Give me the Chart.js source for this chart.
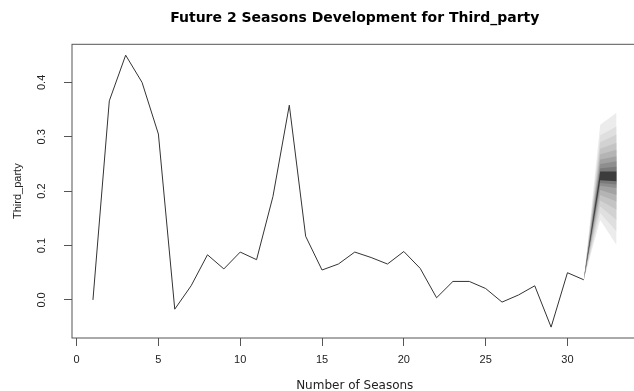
<!DOCTYPE html>
<html>
<head>
<meta charset="utf-8">
<script src="https://cdn.jsdelivr.net/npm/chart.js@4.4.1/dist/chart.umd.min.js"></script>
<style>
  html, body { margin: 0; padding: 0; background: #fff; overflow: hidden; }
  canvas { display: block; }
</style>
</head>
<body>
<canvas id="grafica" width="645" height="400"></canvas>
<script>
const temporadas = [1, 2, 3, 4, 5, 6, 7, 8, 9, 10, 11, 12, 13, 14, 15, 16, 17, 18, 19, 20, 21, 22, 23, 24, 25, 26, 27, 28, 29, 30, 31]
const valores = [0.000, 0.366, 0.450, 0.400, 0.305, -0.017, 0.026, 0.083, 0.057, 0.088, 0.074, 0.190, 0.358, 0.117, 0.055, 0.066, 0.088, 0.078, 0.066, 0.089, 0.058, 0.004, 0.034, 0.034, 0.021, -0.004, 0.009, 0.026, -0.050, 0.050, 0.037]

// etiquetas de los ejes
const xTicks = [0, 5, 10, 15, 20, 25, 30]
const yTicks = [0.0, 0.1, 0.2, 0.3, 0.4]

// pronostico de 2 temporadas (abanico), bandas de la mas interna a la externa
const pronosticoX = [31, 32, 33]
const inicioPronostico = 0.037
const fanBajo32 = [0.220, 0.215, 0.210, 0.202, 0.193, 0.183, 0.172, 0.160, 0.147]
const fanAlto32 = [0.236, 0.242, 0.250, 0.258, 0.268, 0.278, 0.290, 0.303, 0.322]
const fanBajo33 = [0.218, 0.212, 0.206, 0.193, 0.181, 0.166, 0.147, 0.126, 0.101]
const fanAlto33 = [0.236, 0.245, 0.255, 0.264, 0.276, 0.289, 0.304, 0.319, 0.344]
const coloresFan = ['#3c3c3c', '#7a7a7a', '#8e8e8e', '#a2a2a2', '#b4b4b4', '#c4c4c4', '#d2d2d2', '#dfdfdf', '#ececec']

const fuenteR = '"Liberation Sans", Arial, sans-serif'
const fuenteAncha = '"DejaVu Sans", sans-serif'

// serie historica
const datasets = [{
  data: temporadas.map((t, i) => ({ x: t, y: valores[i] })),
  borderColor: '#333',
  borderWidth: 1,
  pointRadius: 0,
  fill: false
}]

// cada banda: borde superior relleno hasta el borde inferior
coloresFan.forEach((color, k) => {
  datasets.push({
    data: [
      { x: pronosticoX[0], y: inicioPronostico },
      { x: pronosticoX[1], y: fanAlto32[k] },
      { x: pronosticoX[2], y: fanAlto33[k] }
    ],
    borderWidth: 0,
    pointRadius: 0,
    backgroundColor: color,
    fill: '+1'
  })
  datasets.push({
    data: [
      { x: pronosticoX[0], y: inicioPronostico },
      { x: pronosticoX[1], y: fanBajo32[k] },
      { x: pronosticoX[2], y: fanBajo33[k] }
    ],
    borderWidth: 0,
    pointRadius: 0,
    fill: false
  })
})

// marco alrededor del area del grafico
const marco = {
  id: 'marco',
  afterDraw(chart) {
    const { ctx, chartArea: a } = chart
    ctx.save()
    ctx.strokeStyle = '#555'
    ctx.lineWidth = 1
    ctx.strokeRect(a.left, a.top, a.right - a.left, a.bottom - a.top)
    ctx.restore()
  }
}

new Chart(document.getElementById('grafica'), {
  type: 'line',
  data: { datasets },
  plugins: [marco],
  options: {
    responsive: false,
    animation: false,
    layout: { padding: { left: 0, right: 7.5, top: 0, bottom: 0 } },
    plugins: {
      legend: { display: false },
      tooltip: { enabled: false },
      title: {
        display: true,
        fullSize: false,
        text: 'Future 2 Seasons Development for Third_party',
        color: '#000',
        font: { family: fuenteAncha, size: 14, weight: 'bold' },
        padding: { top: 9.6, bottom: 17.9 }
      }
    },
    scales: {
      x: {
        type: 'linear',
        min: -0.28,
        max: 34.28,
        afterBuildTicks: (s) => { s.ticks = xTicks.map((v) => ({ value: v })) },
        afterFit: (s) => { s.height = 62 },
        ticks: {
          color: '#222',
          font: { family: fuenteR, size: 11 },
          padding: 7.7,
          maxRotation: 0,
          autoSkip: false,
          callback: (v) => String(v)
        },
        grid: { drawOnChartArea: false, tickLength: 8, color: '#555' },
        border: { display: false },
        title: {
          display: true,
          text: 'Number of Seasons',
          color: '#222',
          font: { family: fuenteAncha, size: 12 },
          padding: { top: 0, bottom: 6.8 }
        }
      },
      y: {
        min: -0.07,
        max: 0.47,
        afterBuildTicks: (s) => { s.ticks = yTicks.map((v) => ({ value: v })) },
        afterFit: (s) => { s.width = 72 },
        ticks: {
          color: '#222',
          font: { family: fuenteR, size: 11 },
          minRotation: 90,
          maxRotation: 90,
          crossAlign: 'center',
          padding: 14.3,
          callback: (v) => v.toFixed(1)
        },
        grid: { drawOnChartArea: false, tickLength: 8, color: '#555' },
        border: { display: false },
        title: {
          display: true,
          text: 'Third_party',
          color: '#222',
          font: { family: fuenteR, size: 11 },
          padding: { top: 10.9, bottom: 0 }
        }
      }
    }
  }
})
</script>
</body>
</html>
